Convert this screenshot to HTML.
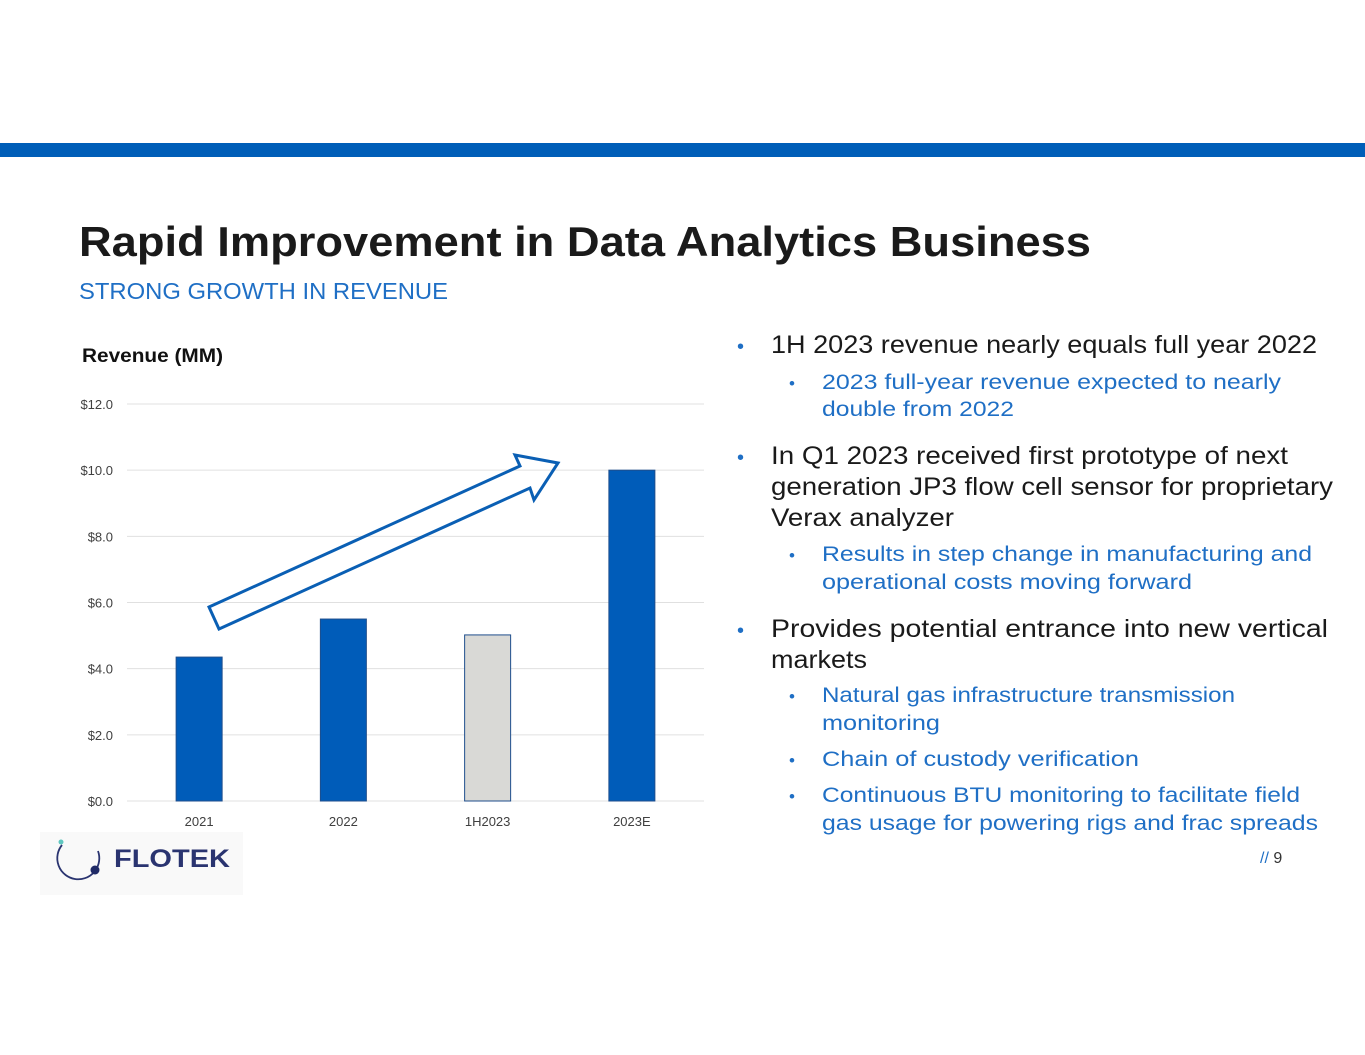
<!DOCTYPE html>
<html><head><meta charset="utf-8"><style>
html,body{margin:0;padding:0;background:#fff;}
svg{display:block;font-family:"Liberation Sans",sans-serif;}
</style></head><body>
<svg id="slide" width="1365" height="1055" viewBox="0 0 1365 1055">
<rect x="0" y="143" width="1365" height="14" fill="#005eb8"/>
<text x="79" y="256" font-size="42" font-weight="bold" fill="#1a1a1a" textLength="1012" lengthAdjust="spacingAndGlyphs">Rapid Improvement in Data Analytics Business</text>
<text x="79" y="299" font-size="23" fill="#1f6fc5" textLength="369" lengthAdjust="spacingAndGlyphs">STRONG GROWTH IN REVENUE</text>
<text x="82" y="362" font-size="19" font-weight="bold" fill="#111" textLength="141" lengthAdjust="spacingAndGlyphs">Revenue (MM)</text>
<g>
<rect x="40" y="832" width="203" height="63" fill="#f9f9f9"/>
<path d="M 62 845 A 21 21 0 1 0 98 851" fill="none" stroke="#2a3470" stroke-width="1.8"/>
<circle cx="61" cy="842" r="2.5" fill="#5fc7c0"/>
<circle cx="95" cy="870" r="4.5" fill="#1f2a66"/>
<text x="114" y="867" font-size="25" font-weight="bold" fill="#2a3470" textLength="116" lengthAdjust="spacingAndGlyphs">FLOTEK</text>
</g>
<g id="chart"></g>
<polygon points="209,607 520,466 515,455 558,463 534,500 530,488 219,629" fill="none" stroke="#0a5fb4" stroke-width="3" stroke-linejoin="miter"/>
<g font-size="25">
<text x="737" y="353" font-size="20" fill="#1f6fc5">•</text>
<text x="771" y="353" fill="#1a1a1a" textLength="546" lengthAdjust="spacingAndGlyphs">1H 2023 revenue nearly equals full year 2022</text>
<text x="789" y="389" font-size="17" fill="#1f6fc5">•</text>
<text x="822" y="389" font-size="21" fill="#1f6fc5" textLength="459" lengthAdjust="spacingAndGlyphs">2023 full-year revenue expected to nearly</text>
<text x="822" y="416" font-size="21" fill="#1f6fc5" textLength="192" lengthAdjust="spacingAndGlyphs">double from 2022</text>
<text x="737" y="464" font-size="20" fill="#1f6fc5">•</text>
<text x="771" y="464" fill="#1a1a1a" textLength="517" lengthAdjust="spacingAndGlyphs">In Q1 2023 received first prototype of next</text>
<text x="771" y="495" fill="#1a1a1a" textLength="562" lengthAdjust="spacingAndGlyphs">generation JP3 flow cell sensor for proprietary</text>
<text x="771" y="526" fill="#1a1a1a" textLength="183" lengthAdjust="spacingAndGlyphs">Verax analyzer</text>
<text x="789" y="561" font-size="17" fill="#1f6fc5">•</text>
<text x="822" y="561" font-size="21" fill="#1f6fc5" textLength="490" lengthAdjust="spacingAndGlyphs">Results in step change in manufacturing and</text>
<text x="822" y="589" font-size="21" fill="#1f6fc5" textLength="370" lengthAdjust="spacingAndGlyphs">operational costs moving forward</text>
<text x="737" y="637" font-size="20" fill="#1f6fc5">•</text>
<text x="771" y="637" fill="#1a1a1a" textLength="557" lengthAdjust="spacingAndGlyphs">Provides potential entrance into new vertical</text>
<text x="771" y="668" fill="#1a1a1a" textLength="96" lengthAdjust="spacingAndGlyphs">markets</text>
<text x="789" y="702" font-size="17" fill="#1f6fc5">•</text>
<text x="822" y="702" font-size="21" fill="#1f6fc5" textLength="413" lengthAdjust="spacingAndGlyphs">Natural gas infrastructure transmission</text>
<text x="822" y="730" font-size="21" fill="#1f6fc5" textLength="118" lengthAdjust="spacingAndGlyphs">monitoring</text>
<text x="789" y="766" font-size="17" fill="#1f6fc5">•</text>
<text x="822" y="766" font-size="21" fill="#1f6fc5" textLength="317" lengthAdjust="spacingAndGlyphs">Chain of custody verification</text>
<text x="789" y="802" font-size="17" fill="#1f6fc5">•</text>
<text x="822" y="802" font-size="21" fill="#1f6fc5" textLength="478" lengthAdjust="spacingAndGlyphs">Continuous BTU monitoring to facilitate field</text>
<text x="822" y="830" font-size="21" fill="#1f6fc5" textLength="496" lengthAdjust="spacingAndGlyphs">gas usage for powering rigs and frac spreads</text>
</g>
<text x="1260" y="863" font-size="16" fill="#333"><tspan fill="#1f6fc5">//</tspan> 9</text>
</svg>
<script>
const categories = ["2021", "2022", "1H2023", "2023E"];
const revenue = [4.35, 5.5, 5.02, 10.0];
const barColors = ["#005cb9", "#005cb9", "#d9d9d6", "#005cb9"];
const yTicks = [0, 2, 4, 6, 8, 10, 12];
const yTickLabels = ["$0.0", "$2.0", "$4.0", "$6.0", "$8.0", "$10.0", "$12.0"];

const NS = "http://www.w3.org/2000/svg";
const g = document.getElementById("chart");
const plot = {x0: 127, x1: 704, y0: 801, y1: 404, yMax: 12};
function yScale(v) { return plot.y0 - (v / plot.yMax) * (plot.y0 - plot.y1); }
const band = (plot.x1 - plot.x0) / categories.length;
function xCenter(i) { return plot.x0 + band * (i + 0.5); }
function mk(tag, attrs) { const e = document.createElementNS(NS, tag); for (const k in attrs) e.setAttribute(k, attrs[k]); g.appendChild(e); return e; }

yTicks.forEach((t, i) => {
  const y = yScale(t);
  const line = mk("line", {x1: plot.x0, x2: plot.x1, y1: y, y2: y, stroke: "#e0e0e0", "stroke-width": 1});
  
  
  const lab = mk("text", {x: 113, y: y + 5, "font-size": 13, fill: "#404040", "text-anchor": "end"});
  lab.textContent = yTickLabels[i];
  
  
});
categories.forEach((c, i) => {
  const cx = xCenter(i), w = 46;
  const top = yScale(revenue[i]);
  const bar = mk("rect", {x: cx - w / 2, y: top, width: w, height: plot.y0 - top, fill: barColors[i], stroke: "#1f4e8c", "stroke-width": 1});
  
  
  const lab = mk("text", {x: cx, y: 826, "font-size": 13, fill: "#404040", "text-anchor": "middle"});
  lab.textContent = c;
  
  
});
</script>
</body></html>
